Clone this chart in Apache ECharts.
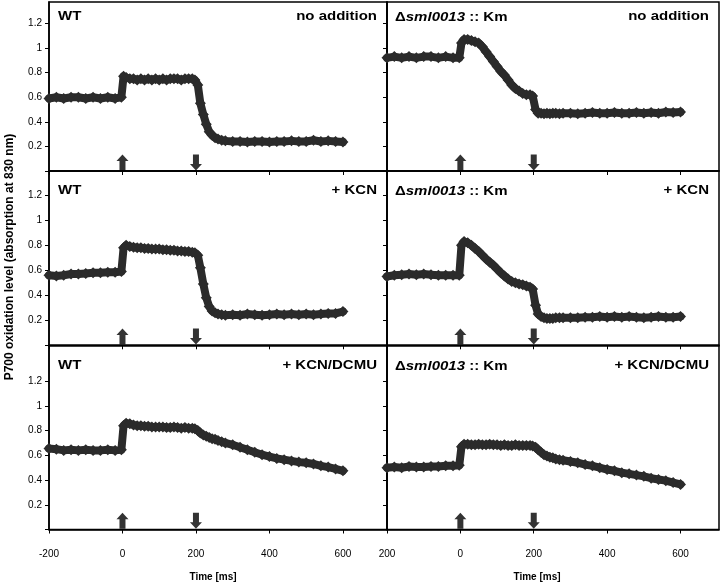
<!DOCTYPE html>
<html>
<head>
<meta charset="utf-8">
<script src="https://cdn.jsdelivr.net/npm/echarts@6/dist/echarts.min.js"></script>
<style>
html,body{margin:0;padding:0;background:#fff;}
#chart{width:721px;height:586px;}
</style>
</head>
<body>
<div id="chart"></div>
<script>
// ---- data ----
const timeMs = [-200,-180,-160,-140,-120,-100,-80,-60,-40,-20,-3,
  3,10,20,30,40,50,60,70,80,90,100,110,120,130,140,150,160,170,180,190,197,
  205,212,220,228,236,244,252,260,270,280,
  300,320,340,360,380,400,420,440,460,480,500,520,540,560,580,600];

const wtNoAddition = [0.59,0.60,0.59,0.60,0.60,0.59,0.60,0.59,0.60,0.59,0.60,
  0.77,0.76,0.75,0.75,0.74,0.75,0.74,0.75,0.74,0.75,0.74,0.75,0.74,0.75,0.75,0.75,0.74,0.75,0.75,0.75,0.74,
  0.70,0.55,0.46,0.38,0.32,0.29,0.27,0.26,0.25,0.245,
  0.24,0.24,0.235,0.24,0.24,0.235,0.24,0.24,0.245,0.24,0.24,0.25,0.24,0.245,0.24,0.235];

const mutNoAddition = [0.92,0.93,0.92,0.93,0.92,0.93,0.93,0.92,0.93,0.92,0.92,
  1.04,1.07,1.07,1.06,1.05,1.04,1.01,0.97,0.93,0.89,0.85,0.81,0.78,0.74,0.70,0.67,0.65,0.63,0.62,0.62,0.61,
  0.50,0.47,0.47,0.465,0.47,0.465,0.47,0.47,0.465,0.47,
  0.47,0.465,0.47,0.475,0.47,0.47,0.475,0.47,0.47,0.475,0.47,0.475,0.47,0.48,0.475,0.48];

const wtKCN = [0.56,0.555,0.56,0.57,0.57,0.575,0.58,0.58,0.585,0.585,0.59,
  0.78,0.80,0.79,0.785,0.78,0.78,0.775,0.775,0.77,0.77,0.77,0.765,0.765,0.76,0.76,0.755,0.755,0.75,0.75,0.745,0.74,
  0.72,0.62,0.49,0.38,0.31,0.275,0.26,0.25,0.245,0.24,
  0.245,0.24,0.25,0.245,0.24,0.245,0.25,0.245,0.25,0.245,0.25,0.245,0.25,0.255,0.255,0.27];

const mutKCN = [0.55,0.56,0.565,0.57,0.565,0.57,0.565,0.56,0.56,0.56,0.56,
  0.80,0.83,0.82,0.80,0.775,0.75,0.72,0.69,0.665,0.64,0.61,0.58,0.555,0.53,0.51,0.50,0.49,0.485,0.475,0.465,0.45,
  0.32,0.25,0.23,0.22,0.215,0.215,0.215,0.22,0.22,0.22,
  0.22,0.22,0.225,0.225,0.23,0.225,0.23,0.225,0.23,0.225,0.22,0.225,0.23,0.225,0.225,0.23];

const wtKCNDCMU = [0.655,0.65,0.64,0.645,0.64,0.645,0.64,0.64,0.645,0.64,0.645,
  0.84,0.86,0.855,0.845,0.84,0.84,0.835,0.835,0.83,0.83,0.83,0.83,0.825,0.825,0.83,0.825,0.82,0.825,0.82,0.82,0.815,
  0.80,0.78,0.765,0.755,0.745,0.735,0.73,0.72,0.71,0.70,
  0.685,0.665,0.645,0.625,0.605,0.59,0.575,0.565,0.555,0.545,0.54,0.53,0.515,0.505,0.49,0.475];

const mutKCNDCMU = [0.50,0.505,0.50,0.51,0.505,0.505,0.51,0.51,0.515,0.515,0.52,
  0.67,0.69,0.69,0.685,0.685,0.69,0.685,0.685,0.69,0.685,0.685,0.68,0.685,0.68,0.68,0.685,0.68,0.68,0.68,0.68,0.675,
  0.665,0.645,0.625,0.605,0.595,0.585,0.58,0.57,0.565,0.56,
  0.55,0.54,0.525,0.515,0.50,0.485,0.475,0.46,0.45,0.44,0.43,0.415,0.405,0.395,0.38,0.365];

const lightOnMs = [0];
const lightOffMs = [200];
const arrowLevel = 0.07;

const xTicks = [-200, 0, 200, 400, 600];
const xTickLabelsLeft = ['-200', '0', '200', '400', '600'];
const xTickLabelsRight = ['200', '0', '200', '400', '600'];
const yTicks = [0, 0.2, 0.4, 0.6, 0.8, 1, 1.2];
const yLabelValues = [0.2, 0.4, 0.6, 0.8, 1, 1.2];

const strainLabels = ['WT', 'mut'];
const treatmentLabels = ['no addition', '+ KCN', '+ KCN/DCMU'];
const xAxisTitle = 'Time [ms]';
const yAxisTitle = 'P700 oxidation level (absorption at 830 nm)';

// ---- layout ----
const FONT = '"Liberation Sans", Arial, Helvetica, sans-serif';
const INK = '#2b2b2b';
const colLeft = [49, 387];
const colWidth = [338, 332];
const xMax = [720, 705];
const rowTop = [2, 171, 345.3];
const rowHeight = [169, 174.3, 184.2];
const yMax = [1.374, 1.394, 1.49];
const labelY = [16, 190.5, 365];

const panels = [
  [wtNoAddition, mutNoAddition],
  [wtKCN, mutKCN],
  [wtKCNDCMU, mutKCNDCMU]
];

const upArrow = 'path://M6,0 L12,6.5 L9,6.5 L9,16 L3,16 L3,6.5 L0,6.5 Z';
const downArrow = 'path://M3,0 L9,0 L9,9.5 L12,9.5 L6,16 L0,9.5 L3,9.5 Z';

const grids = [], xAxes = [], yAxes = [], series = [], graphics = [];
let idx = 0;
for (let r = 0; r < 3; r++) {
  for (let c = 0; c < 2; c++) {
    grids.push({
      left: colLeft[c], top: rowTop[r], width: colWidth[c], height: rowHeight[r],
      show: true, borderColor: '#000', borderWidth: 1.5, backgroundColor: 'transparent'
    });
    const bottomRow = r === 2;
    const tickLabels = c === 0 ? xTickLabelsLeft : xTickLabelsRight;
    xAxes.push({
      type: 'value', gridIndex: idx, min: -200, max: xMax[c],
      splitLine: { show: false },
      axisLine: { show: true, onZero: false, lineStyle: { color: '#000', width: 1.5 } },
      axisTick: { show: true, customValues: xTicks, length: 4, lineStyle: { color: '#000', width: 1 } },
      axisLabel: {
        show: bottomRow, customValues: xTicks, margin: 20,
        color: '#000', fontSize: 10, fontFamily: FONT,
        formatter: function (v) { const k = xTicks.indexOf(v); return k >= 0 ? tickLabels[k] : ''; }
      }
    });
    yAxes.push({
      type: 'value', gridIndex: idx, min: 0, max: yMax[r],
      splitLine: { show: false },
      axisLine: { show: true, onZero: false, lineStyle: { color: '#000', width: 1.5 } },
      axisTick: { show: true, customValues: yTicks, length: 4, lineStyle: { color: '#000', width: 1 } },
      axisLabel: {
        show: c === 0, customValues: yLabelValues, margin: 7,
        color: '#000', fontSize: 10, fontFamily: FONT,
        formatter: function (v) { return String(v); }
      }
    });
    const vals = panels[r][c];
    series.push({
      type: 'line', xAxisIndex: idx, yAxisIndex: idx,
      data: timeMs.map((t, k) => [t, vals[k]]),
      symbol: 'diamond', symbolSize: 11, showSymbol: true, showAllSymbol: true,
      lineStyle: { color: INK, width: 8, join: 'round', cap: 'round' },
      itemStyle: { color: INK, borderWidth: 0 },
      silent: true, animation: false, z: 3
    });
    series.push({
      type: 'scatter', xAxisIndex: idx, yAxisIndex: idx,
      data: lightOnMs.map(t => ({ value: [t, arrowLevel], symbol: upArrow }))
        .concat(lightOffMs.map(t => ({ value: [t, arrowLevel], symbol: downArrow }))),
      symbolSize: [12, 16], symbolKeepAspect: false,
      itemStyle: { color: '#000' }, silent: true, animation: false, z: 4
    });

    // panel labels
    const leftX = colLeft[c] + (c === 0 ? 9 : 8);
    const rightX = colLeft[c] + colWidth[c] - 10;
    if (c === 0) {
      graphics.push({
        type: 'text', x: leftX, y: labelY[r], scaleY: 0.88,
        style: { text: strainLabels[0], font: 'bold 15px ' + FONT, fill: '#000', textAlign: 'left', textVerticalAlign: 'middle' }
      });
    } else {
      graphics.push({
        type: 'text', x: leftX, y: labelY[r] + 1, scaleY: 0.88,
        style: {
          text: '{n|Δ}{i|sml0013}{n| :: Km}', textAlign: 'left', textVerticalAlign: 'middle',
          rich: {
            n: { fontSize: 15, fontWeight: 'bold', fontFamily: FONT, fill: '#000', color: '#000' },
            i: { fontSize: 15, fontWeight: 'bold', fontStyle: 'italic', fontFamily: FONT, fill: '#000', color: '#000' }
          }
        }
      });
    }
    graphics.push({
      type: 'text', x: rightX, y: labelY[r], scaleY: 0.88,
      style: { text: treatmentLabels[r], font: 'bold 15px ' + FONT, fill: '#000', textAlign: 'right', textVerticalAlign: 'middle' }
    });
    idx++;
  }
}

graphics.push({
  type: 'text', x: 213, y: 577,
  style: { text: xAxisTitle, font: 'bold 10px ' + FONT, fill: '#000', textAlign: 'center', textVerticalAlign: 'middle' }
});
graphics.push({
  type: 'text', x: 537, y: 577,
  style: { text: xAxisTitle, font: 'bold 10px ' + FONT, fill: '#000', textAlign: 'center', textVerticalAlign: 'middle' }
});
graphics.push({
  type: 'text', x: 10, y: 257, rotation: Math.PI / 2,
  style: { text: yAxisTitle, font: 'bold 12px ' + FONT, fill: '#000', textAlign: 'center', textVerticalAlign: 'middle' }
});

const chart = echarts.init(document.getElementById('chart'), null, { renderer: 'canvas' });
chart.setOption({
  animation: false,
  backgroundColor: '#fff',
  grid: grids,
  xAxis: xAxes,
  yAxis: yAxes,
  series: series,
  graphic: graphics
});
</script>
</body>
</html>
